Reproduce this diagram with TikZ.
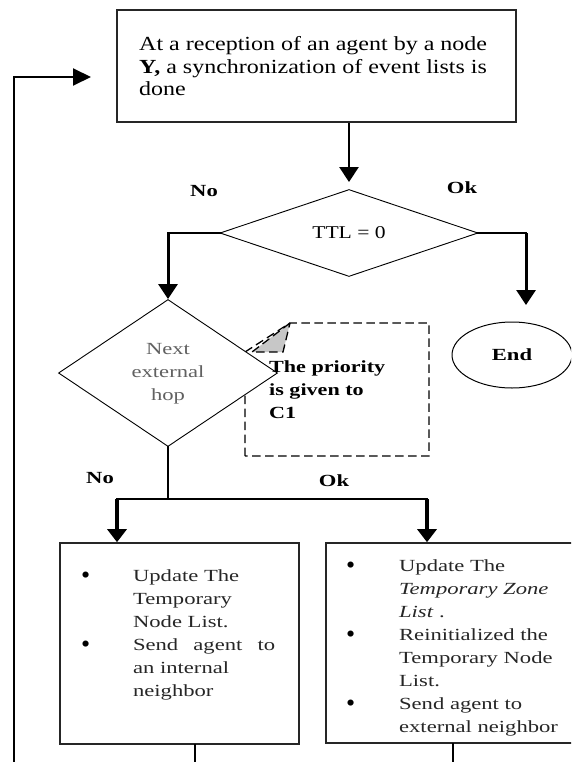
\documentclass[tikz,border=0pt]{standalone}
\usepackage{fontspec}
\setmainfont{Liberation Serif}
\usepackage{graphicx}
\usetikzlibrary{arrows.meta,shapes.geometric}
% horizontally widened text
\newcommand\hstretch[2]{\scalebox{#1}[1]{#2}}
% list bullet, a little larger than the font's own
\newcommand\blt{\raisebox{-2.5pt}{\textcolor{black}{\scalebox{1.15}[1.5]{\textbullet}}}}

\begin{document}
\begin{tikzpicture}[x=1pt,y=-1pt,
  box/.style={rectangle, draw=black!85, line width=1.6pt, inner sep=0pt},
  dia/.style={diamond, draw=black, line width=0.9pt, fill=white, inner sep=0pt, align=center},
  conn/.style={draw=black, line width=2pt, line cap=rect},
  arr/.style={draw=black, line width=3pt, -{Triangle[length=15pt,width=19pt]}},
  arrs/.style={draw=black, line width=3.4pt, -{Triangle[length=13pt,width=19pt]}},
  lbl/.style={inner sep=0pt, font=\bfseries\fontsize{17}{20}\selectfont},
  body/.style={inner sep=0pt, anchor=north west, text=black!85},
  note/.style={draw=black, line width=1.3pt, dash pattern=on 8.5pt off 4.5pt}
]
\useasboundingbox (0,0) rectangle (571,762);
\clip (0,0) rectangle (571,762);

% ---- start box ----
\node[box, minimum width=399pt, minimum height=112pt] (top) at (316.5,66) {};
\node[body, text=black] (topText) at (139,35)
  {\hstretch{1.2}{\fontsize{20}{22.5}\selectfont\begin{tabular}{@{}l@{}}At a reception of an agent by a node\\\textbf{Y,} a synchronization of event lists is\\done\end{tabular}}};

% ---- TTL test ----
\node[dia, minimum width=258pt, minimum height=87pt] (ttl) at (349,233)
  {\hstretch{1.2}{\fontsize{18}{20}\selectfont TTL = 0}};
\node[lbl] (noA) at (204,191) {\hstretch{1.33}{No}};
\node[lbl] (okA) at (462,188) {\hstretch{1.33}{Ok}};

% ---- end terminal ----
\node[draw, ellipse, line width=1pt, minimum width=120pt, minimum height=66pt, inner sep=0pt] (fin) at (512,355)
  {\hstretch{1.33}{\bfseries\fontsize{17}{20}\selectfont End}};

% ---- callout with folded corner ----
\draw[note] (245,456) -- (245,352) -- (290,323) -- (429,323) -- (429,456) -- cycle;
\filldraw[note, fill=black!22] (290,323) -- (252,352) -- (283,352) -- cycle;

% ---- next hop test ----
\node[dia, minimum width=219pt, minimum height=147pt, text=black!62] (hop) at (168,373)
  {\hstretch{1.33}{\fontsize{17}{23}\selectfont\begin{tabular}{@{}c@{}}Next\\external\\hop\end{tabular}}};

\node[body, text=black] (noteText) at (269,356)
  {\hstretch{1.3}{\bfseries\fontsize{17}{23}\selectfont\begin{tabular}{@{}l@{}}The priority\\is given to\\C1\end{tabular}}};

\node[lbl] (noB) at (100,478) {\hstretch{1.33}{No}};
\node[lbl] (okB) at (334,481) {\hstretch{1.33}{Ok}};

% ---- action boxes (the right one runs past the page edge) ----
\node[box, minimum width=239pt, minimum height=201pt] (lbox) at (179.5,643.5) {};
\node[box, minimum width=320pt, minimum height=200pt] (rbox) at (486,643) {};

\node[body] (lText) at (81,565)
  {\hstretch{1.33}{\fontsize{17}{23}\selectfont\begin{tabular}{@{}l@{}l@{}}
  \makebox[39pt][l]{\blt} & Update The\\
  & Temporary\\
  & Node List.\\
  \makebox[39pt][l]{\blt} & \makebox[106.8pt][s]{Send agent to}\\
  & an internal\\
  & neighbor
  \end{tabular}}};

\node[body] (rText) at (346,555)
  {\hstretch{1.33}{\fontsize{17}{23}\selectfont\begin{tabular}{@{}l@{}l@{}}
  \makebox[39.8pt][l]{\blt} & Update The\\
  & \textit{Temporary Zone}\\
  & \textit{List} .\\
  \makebox[39.8pt][l]{\blt} & Reinitialized the\\
  & Temporary Node\\
  & List.\\
  \makebox[39.8pt][l]{\blt} & Send agent to\\
  & external neighbor
  \end{tabular}}};

% ---- connector points ----
\coordinate (rb) at (526,233);
\coordinate (endIn) at (526,305);
\coordinate (split) at (168,499);
\coordinate (lL) at (117,499);
\coordinate (lR) at (427,499);
\coordinate (lOut) at (195,770);
\coordinate (rOut) at (453,770);
\coordinate (loopB) at (14,770);
\coordinate (loopT) at (14,77);
\coordinate (loopTip) at (91,77);

% ---- connectors ----
\draw[arr, line width=2.4pt, shorten >=7pt] (top.south -| ttl.north) -- (ttl.north);
\draw[conn] (ttl.west) -- (ttl.west -| hop.north);
\draw[arr] (ttl.west -| hop.north) -- (hop.north);
\draw[conn] (ttl.east) -- (rb);
\draw[arr] (rb) -- (endIn);

\draw[conn, line width=1.5pt] (hop.south) -- (split);
\draw[conn] (lL) -- (lR);
\draw[arrs] (lL) -- (lL |- lbox.north);
\draw[arrs] (lR) -- (lR |- rbox.north);

\draw[conn] (lbox.south -| lOut) -- (lOut);
\draw[conn] (rbox.south -| rOut) -- (rOut);
\draw[conn, -{Triangle[length=18pt,width=17pt]}] (loopB) -- (loopT) -- (loopTip);
\end{tikzpicture}
\end{document}
